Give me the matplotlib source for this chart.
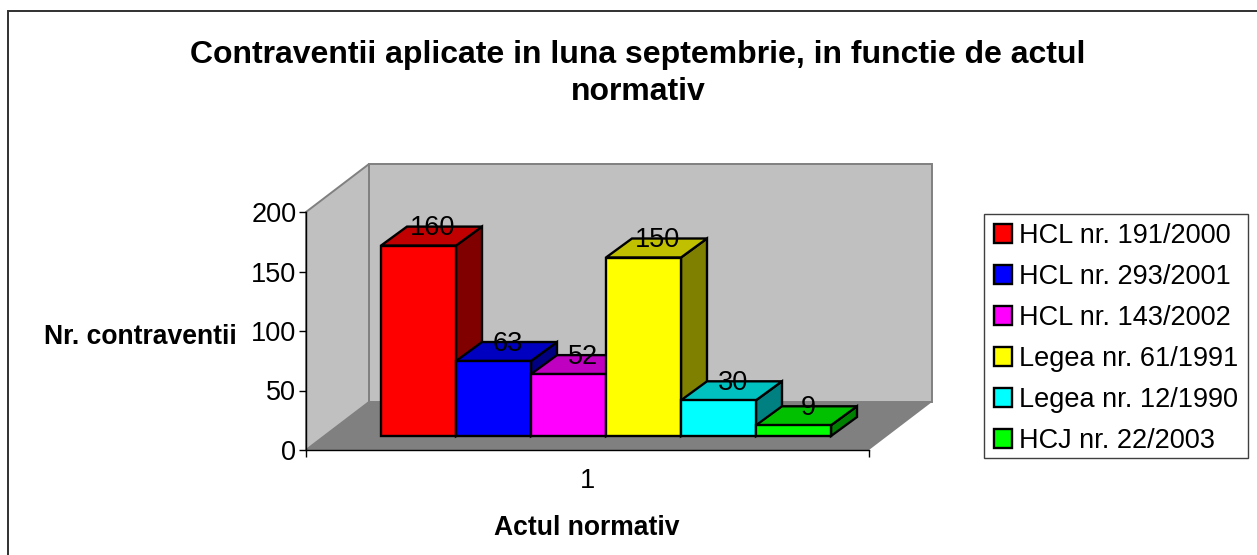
import matplotlib.pyplot as plt
from matplotlib.patches import Patch, Polygon, Rectangle


labels = ["HCL nr. 191/2000", "HCL nr. 293/2001", "HCL nr. 143/2002",
          "Legea nr. 61/1991", "Legea nr. 12/1990", "HCJ nr. 22/2003"]
values = [160, 63, 52, 150, 30, 9]
front_colors = ["#FF0000", "#0000FF", "#FF00FF", "#FFFF00", "#00FFFF", "#00FF00"]
top_colors = ["#C00000", "#0000C0", "#C000C0", "#C0C000", "#00C0C0", "#00C000"]
side_colors = ["#800000", "#000080", "#800080", "#808000", "#008080", "#008000"]
y_ticks = [0, 50, 100, 150, 200]

W, H = 1257, 555
FONT = 19.5
BOLD = 19.1
plt.rcParams["font.family"] = ["Liberation Sans", "DejaVu Sans"]


def main() -> None:
    fig = plt.figure(figsize=(W / 100, H / 100), dpi=100)
    ax = fig.add_axes([306 / W, 1 - 450 / H, 563 / W, 238 / H])

    # x unit = one bar width (75 px), y unit = one chart value (1.19 px)
    x_max = 563 / 75
    wall_dx, wall_dy = 63 / 75, 48 / 1.19
    bar_dx, bar_dy = 26 / 75, 19 / 1.19
    base = 14 / 1.19
    ax.set_xlim(0, x_max)
    ax.set_ylim(0, 200)
    ax.patch.set_visible(False)

    wall_style = dict(edgecolor="#808080", linewidth=1.4, clip_on=False, zorder=1, joinstyle="miter")
    ax.add_patch(Polygon([(wall_dx, wall_dy), (x_max + wall_dx, wall_dy),
                          (x_max + wall_dx, 200 + wall_dy), (wall_dx, 200 + wall_dy)],
                         facecolor="#C0C0C0", **wall_style))
    ax.add_patch(Polygon([(0, 0), (wall_dx, wall_dy), (wall_dx, 200 + wall_dy), (0, 200)],
                         facecolor="#C0C0C0", **wall_style))
    ax.add_patch(Polygon([(0, 0), (x_max, 0), (x_max + wall_dx, wall_dy), (wall_dx, wall_dy)],
                         facecolor="#808080", edgecolor="none", clip_on=False, zorder=1.5))

    bar_style = dict(edgecolor="black", linewidth=1.7, clip_on=False, zorder=3, joinstyle="miter")
    for i, value in enumerate(values):
        left, right = 1 + i, 2 + i
        top = base + value
        ax.add_patch(Polygon([(right, base), (right + bar_dx, base + bar_dy),
                              (right + bar_dx, top + bar_dy), (right, top)],
                             facecolor=side_colors[i], **bar_style))
        ax.add_patch(Polygon([(left, top), (right, top),
                              (right + bar_dx, top + bar_dy), (left + bar_dx, top + bar_dy)],
                             facecolor=top_colors[i], **bar_style))
        ax.add_patch(Rectangle((left, base), 1, value, facecolor=front_colors[i], **bar_style))

    for i, value in enumerate(values):
        ax.text(1.69 + i, base + value + bar_dy - 1.5, str(value), fontsize=FONT,
                ha="center", va="center", color="black", zorder=5)

    for side in ["top", "right"]:
        ax.spines[side].set_visible(False)
    for side in ["left", "bottom"]:
        ax.spines[side].set_linewidth(1.0)
        ax.spines[side].set_zorder(4)

    ax.set_yticks(y_ticks)
    ax.tick_params(axis="y", labelsize=FONT, length=5, width=1.0, pad=2)
    ax.set_xticks([0, x_max], ["", ""])
    ax.tick_params(axis="x", which="major", length=5, width=1.0)
    ax.set_xticks([x_max / 2], ["1"], minor=True)
    ax.tick_params(axis="x", which="minor", labelsize=FONT, length=0, pad=13)

    ax.set_ylabel("Nr. contraventii", fontsize=BOLD, fontweight="bold", rotation=0, ha="right", va="center")
    ax.yaxis.set_label_coords(-69 / 563, 113 / 238)
    ax.set_xlabel("Actul normativ", fontsize=BOLD, fontweight="bold", ha="center", va="center")
    ax.xaxis.set_label_coords(281 / 563, -78 / 238)

    fig.text(638 / W, 1 - 73.5 / H, "Contraventii aplicate in luna septembrie, in functie de actul\nnormativ",
             fontsize=23.05, fontweight="bold", ha="center", va="center", linespacing=1.285)

    # legend frame drawn by hand, the automatic one comes out too tall
    fig.add_artist(Rectangle((984 / W, 1 - 458 / H), 264 / W, 244 / H, transform=fig.transFigure,
                             facecolor="white", edgecolor="#404040", linewidth=1.0))
    handles = [Patch(facecolor=c, edgecolor="black", linewidth=1.7) for c in front_colors]
    fig.legend(handles, labels, loc="upper left", bbox_to_anchor=(984 / W, 1 - 213 / H),
               fontsize=FONT, frameon=False,
               handlelength=0.68, handleheight=0.68, handletextpad=0.25,
               labelspacing=0.553, borderpad=0.37, borderaxespad=0)

    # chart area border, right and bottom edges run off the picture
    fig.add_artist(Rectangle((7.5 / W, -5 / H), (W + 5 - 7.5) / W, (H - 10.5 + 5) / H,
                             transform=fig.transFigure, fill=False, edgecolor="#303030", linewidth=1.4))

    fig.savefig("out.png", dpi=100)
    plt.close(fig)


if __name__ == "__main__":
    main()
